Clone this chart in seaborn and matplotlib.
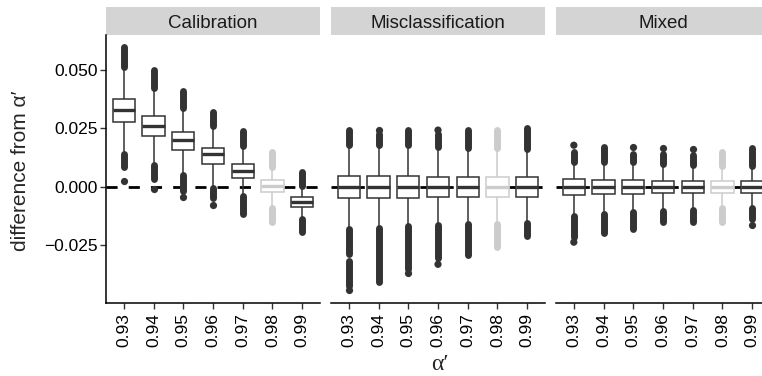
import numpy as np
import pandas as pd
import matplotlib
matplotlib.use("Agg")
import matplotlib.pyplot as plt
import seaborn as sns
from matplotlib.patches import Rectangle

# --- data ---
alphas = ["0.93", "0.94", "0.95", "0.96", "0.97", "0.98", "0.99"]
panels = ["Calibration", "Misclassification", "Mixed"]

# five-number summaries (lower whisker, q1, median, q3, upper whisker)
cal_wlo = [0.0150, 0.0100, 0.0057, 0.0005, -0.0036, -0.0086, -0.0136]
cal_q1 = [0.0279, 0.0219, 0.0157, 0.0097, 0.0036, -0.0024, -0.0086]
cal_med = [0.0329, 0.0260, 0.0200, 0.0140, 0.0067, 0.0003, -0.0064]
cal_q3 = [0.0375, 0.0303, 0.0233, 0.0167, 0.0096, 0.0029, -0.0043]
cal_whi = [0.0501, 0.0422, 0.0336, 0.0257, 0.0172, 0.0079, -0.0007]

mis_wlo = [-0.0178, -0.0172, -0.0164, -0.0160, -0.0154, -0.0154, -0.0150]
mis_q1 = [-0.0050, -0.0047, -0.0047, -0.0043, -0.0043, -0.0043, -0.0043]
mis_med = [0.0, 0.0, 0.0, 0.0, 0.0, 0.0, 0.0]
mis_q3 = [0.0047, 0.0046, 0.0046, 0.0043, 0.0043, 0.0043, 0.0043]
mis_whi = [0.0172, 0.0172, 0.0172, 0.0165, 0.0157, 0.0157, 0.0154]

mix_wlo = [-0.0121, -0.0110, -0.0103, -0.0100, -0.0094, -0.0086, -0.0086]
mix_q1 = [-0.0036, -0.0033, -0.0033, -0.0028, -0.0028, -0.0028, -0.0026]
mix_med = [0.0, 0.0, 0.0, 0.0, 0.0, 0.0, 0.0]
mix_q3 = [0.0033, 0.0029, 0.0029, 0.0026, 0.0026, 0.0026, 0.0026]
mix_whi = [0.0100, 0.0100, 0.0100, 0.0093, 0.0090, 0.0083, 0.0083]

# outliers: dense runs of overlapping points (low, high) and lone points
cal_runs = [[(0.0512, 0.0598), (0.0086, 0.0140)],
            [(0.0425, 0.0500), (0.0032, 0.0095)],
            [(0.0338, 0.0410), (-0.0018, 0.0052)],
            [(0.0259, 0.0322), (-0.0048, -0.0005)],
            [(0.0175, 0.0240), (-0.0118, -0.0040)],
            [(0.0085, 0.0148), (-0.0150, -0.0092)],
            [(0.0005, 0.0062), (-0.0195, -0.0140)]]
cal_dots = [[0.0026], [-0.0008], [-0.0045], [-0.0078], [], [], []]

mis_runs = [[(0.0178, 0.0243), (-0.0290, -0.0182), (-0.0425, -0.0318)],
            [(0.0180, 0.0225), (-0.0410, -0.0176)],
            [(0.0178, 0.0243), (-0.0352, -0.0168)],
            [(0.0172, 0.0228), (-0.0305, -0.0164)],
            [(0.0165, 0.0243), (-0.0292, -0.0160)],
            [(0.0165, 0.0243), (-0.0260, -0.0160)],
            [(0.0160, 0.0252), (-0.0213, -0.0157)]]
mis_dots = [[-0.0445], [0.0243], [-0.0372], [0.0243, -0.0333], [], [], []]

mix_runs = [[(0.0105, 0.0150), (-0.0215, -0.0125)],
            [(0.0105, 0.0170), (-0.0200, -0.0115)],
            [(0.0105, 0.0140), (-0.0180, -0.0108)],
            [(0.0098, 0.0140), (-0.0150, -0.0105)],
            [(0.0095, 0.0135), (-0.0150, -0.0100)],
            [(0.0088, 0.0148), (-0.0150, -0.0092)],
            [(0.0088, 0.0165), (-0.0140, -0.0092)]]
mix_dots = [[0.0178, -0.0238], [], [0.0170], [0.0167], [0.0160], [], [-0.0163]]

yticks = [-0.025, 0.0, 0.025, 0.050]
ytick_labels = ["\u22120.025", "0.000", "0.025", "0.050"]

summaries = {
    "Calibration": (cal_wlo, cal_q1, cal_med, cal_q3, cal_whi),
    "Misclassification": (mis_wlo, mis_q1, mis_med, mis_q3, mis_whi),
    "Mixed": (mix_wlo, mix_q1, mix_med, mix_q3, mix_whi),
}
runs = {"Calibration": cal_runs, "Misclassification": mis_runs, "Mixed": mix_runs}
dots = {"Calibration": cal_dots, "Misclassification": mis_dots, "Mixed": mix_dots}

# long tables for seaborn
box_rows, dot_rows = [], []
for p in panels:
    for i, a in enumerate(alphas):
        for stat in summaries[p]:
            box_rows.append((p, a, stat[i]))
        for v in dots[p][i]:
            dot_rows.append((p, a, v))
box_df = pd.DataFrame(box_rows, columns=["panel", "alpha", "value"])
dot_df = pd.DataFrame(dot_rows, columns=["panel", "alpha", "value"])

dark = "#333333"
light = "#CCCCCC"
pal = {a: (light if a == "0.98" else dark) for a in alphas}

# --- plotting ---
sns.set_theme(style="white")
plt.rcParams["font.family"] = ["Liberation Sans", "DejaVu Sans"]

fig = plt.figure(figsize=(7.62, 3.76), dpi=100)
W, H = 762, 376
lefts = [106, 331, 556]
axes = [fig.add_axes([l / W, 73 / H, 214 / W, 268 / H]) for l in lefts]

for k, (ax, p) in enumerate(zip(axes, panels)):
    ax.axhline(0, color="black", lw=2.0, ls=(0, (4, 4)), zorder=0.5)

    sub = box_df[box_df.panel == p]
    for is_ref, part in sub.groupby(sub.alpha == "0.98"):
        col = light if is_ref else dark
        sns.boxplot(data=part, x="alpha", y="value", order=alphas, whis=np.inf,
                    width=0.75, fill=True, color="white", linecolor=col,
                    linewidth=1.1, showcaps=False, saturation=1,
                    medianprops={"linewidth": 2.4, "color": col}, ax=ax)

    for i, a in enumerate(alphas):
        for lo, hi in runs[p][i]:
            ax.vlines(i, lo, hi, colors=pal[a], lw=5.0, capstyle="round", zorder=3)

    dsub = dot_df[dot_df.panel == p]
    sns.stripplot(data=dsub, x="alpha", y="value", order=alphas, hue="alpha",
                  hue_order=alphas, palette=pal, jitter=False, size=5.2,
                  linewidth=0, legend=False, zorder=3, ax=ax)

    ax.set_xlim(-0.6, 6.6)
    ax.set_ylim(-0.0499, 0.0651)
    ax.set_xlabel("")
    ax.set_ylabel("")
    ax.set_xticks(range(len(alphas)))
    ax.set_xticklabels(alphas, rotation=90, fontsize=12.5, color="black")
    ax.tick_params(axis="x", bottom=True, length=4, width=1, color=dark, pad=3)
    for s in ["top", "right"]:
        ax.spines[s].set_visible(False)
    ax.spines["bottom"].set_color("black")
    ax.spines["bottom"].set_linewidth(1.1)
    if k == 0:
        ax.set_yticks(yticks)
        ax.set_yticklabels(ytick_labels, fontsize=12.5, color="black")
        ax.tick_params(axis="y", left=True, length=4, width=1, color=dark, pad=2)
        ax.spines["left"].set_color("black")
        ax.spines["left"].set_linewidth(1.1)
    else:
        ax.spines["left"].set_visible(False)
        ax.tick_params(axis="y", left=False, labelleft=False)

    # facet strip
    sh = 28 / 268
    ax.add_patch(Rectangle((0, 1), 1, sh, transform=ax.transAxes,
                           facecolor="#D4D4D4", edgecolor="none", clip_on=False))
    ax.text(0.5, 1 + sh / 2, p, transform=ax.transAxes, ha="center",
            va="center_baseline", fontsize=13.5, color="#1A1A1A")

fig.text(21 / W, 1 - 171 / H, "difference from \u03b1\u2032", rotation=90,
         ha="center", va="center", fontsize=15)
fig.text(440 / W, 1 - 364 / H, "\u03b1\u2032", ha="center", va="center",
         fontsize=17, family=["Liberation Serif", "DejaVu Serif"])

fig.savefig("out.png", dpi=100)
